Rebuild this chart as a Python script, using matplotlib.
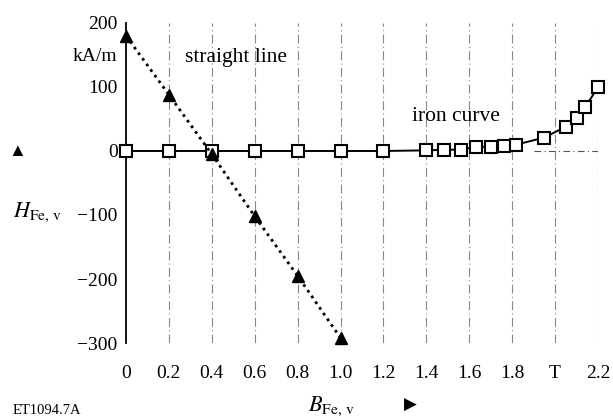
import matplotlib
matplotlib.use("Agg")
import matplotlib.pyplot as plt

# Data
B_line = [0.0, 0.2, 0.4, 0.6, 0.8, 1.0]
H_line = [180, 88, -5, -102, -195, -292]

B_iron = [0.0, 0.2, 0.4, 0.6, 0.8, 1.0, 1.2, 1.4, 1.48, 1.56, 1.63, 1.7, 1.76, 1.82,
          1.95, 2.05, 2.1, 2.14, 2.2]
H_iron = [0, 0, 0, 0, 0, 0, 0, 1, 2, 2, 6, 7, 8, 10, 21, 38, 52, 68, 100]

x_ticks = [0, 0.2, 0.4, 0.6, 0.8, 1.0, 1.2, 1.4, 1.6, 1.8, 2.0, 2.2]
x_labels = ["0", "0.2", "0.4", "0.6", "0.8", "1.0", "1.2", "1.4", "1.6", "1.8", "T", "2.2"]
y_ticks = [200, 150, 100, 0, -100, -200, -300]
y_labels = ["200", "kA/m", "100", "0", "\u2212100", "\u2212200", "\u2212300"]

plt.rcParams['font.family'] = ['Liberation Serif', 'DejaVu Serif']
plt.rcParams['mathtext.fontset'] = 'stix'

fig = plt.figure(figsize=(6.13, 4.2), dpi=100)
ax = fig.add_axes([0.2055, 0.1833, 0.770, 0.762])
ax.set_xlim(0, 2.2)
ax.set_ylim(-300, 200)

for x in x_ticks[1:]:
    ax.plot([x, x], [-300, 200], color='#888888', lw=0.8, ls=(0, (8, 3, 1, 3)), zorder=1)
ax.plot([1.9, 2.2], [0, 0], color='#555555', lw=0.8, ls=(0, (6, 3, 1, 3)), zorder=1)

ax.plot(B_iron, H_iron, color='black', lw=1.4, marker='s', ms=8,
        mfc='white', mec='black', mew=1.5, clip_on=False, zorder=3)
ax.plot(B_line, H_line, color='black', lw=2.0, ls=(0, (1, 1.5)), marker='^', ms=9,
        mfc='black', mec='black', clip_on=False, zorder=4)

for s in ['top', 'right', 'bottom']:
    ax.spines[s].set_visible(False)
ax.spines['left'].set_linewidth(1.3)

ax.set_xticks(x_ticks)
ax.set_xticklabels(x_labels)
ax.set_yticks(y_ticks)
ax.set_yticklabels(y_labels)
ax.tick_params(length=0, labelsize=14, pad=6)
ax.tick_params(axis='x', pad=16)

ax.text(0.275, 146, "straight line", fontsize=15.5, ha='left', va='center')
ax.text(1.335, 54, "iron curve", fontsize=15.5, ha='left', va='center')

fig.text(17 / 613, 1 - 151 / 420, "\u25B2", fontsize=13, ha='center', va='center')
fig.text(38 / 613, 1 - 212 / 420, r"$H_{\mathrm{Fe,\,v}}$", fontsize=16, ha='center', va='center')
fig.text(331 / 613, 1 - 406 / 420, r"$B_{\mathrm{Fe,\,v}}$", fontsize=16, ha='center', va='center')
fig.text(410 / 613, 1 - 406 / 420, "\u25B6", fontsize=12, ha='center', va='center')
fig.text(13 / 613, 1 - 410 / 420, "ET1094.7A", fontsize=10.5, ha='left', va='center')

fig.savefig("out.png", dpi=100)
